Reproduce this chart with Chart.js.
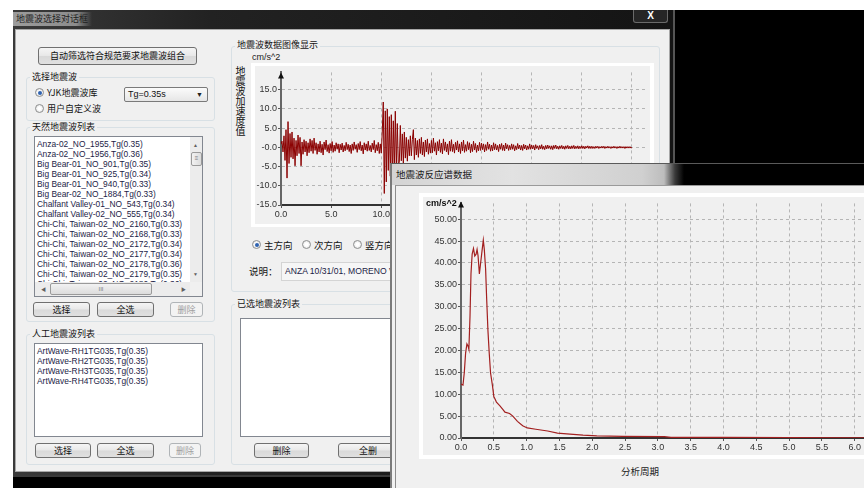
<!DOCTYPE html>
<html>
<head>
<meta charset="utf-8">
<script src="https://cdn.jsdelivr.net/npm/chart.js@4.4.1/dist/chart.umd.min.js"></script>
<style>
html, body { margin: 0; padding: 0; }
body { width: 864px; height: 488px; overflow: hidden; position: relative; background: #fff;
       font-family: "Liberation Sans", "Noto Sans CJK SC", sans-serif; font-size: 9px; color: #1a1a1a; }
.a { position: absolute; white-space: nowrap; }
.cn { font-family: "Noto Sans CJK SC", sans-serif; font-size: 9px; line-height: 12px; color: #141414; }
.btn { position: absolute; box-sizing: border-box; border: 1px solid #707070; border-radius: 3px;
       background: linear-gradient(#f5f5f5, #e8e8e8 48%, #d9d9d9 52%, #e0e0e0);
       text-align: center; font-family: "Noto Sans CJK SC", sans-serif; font-size: 9px; color: #111; }
.btn.off { border-color: #b0b4b7; background: #f3f3f3; color: #a0a0a0; }
.grp { position: absolute; box-sizing: border-box; border: 1px solid #d8e0e5; border-radius: 3px; }
.gl { position: absolute; background: #f0f0f0; padding: 0 2px; }
.rd { position: absolute; width: 9px; height: 9px; box-sizing: border-box; border: 1px solid #8e8f8f;
      border-radius: 50%; background: radial-gradient(circle, #fff 30%, #d8d8d8); }
.rd.on::after { content: ""; position: absolute; left: 1.5px; top: 1.5px; width: 4px; height: 4px;
      border-radius: 50%; background: #2f62b0; }
.list { position: absolute; box-sizing: border-box; border: 1px solid #828790; background: #fff; overflow: hidden; }
.item { position: absolute; left: 2px; white-space: nowrap; font-size: 8.4px; line-height: 10px; color: #1c1c46; }
.sb { position: absolute; background: #ececec; }
.arr { position: absolute; font-size: 5px; color: #606060; line-height: 6px; }
.thumb { position: absolute; box-sizing: border-box; border: 1px solid #9a9a9a; border-radius: 2px;
         background: linear-gradient(to right, #f2f2f2, #dcdcdc); font-size: 6px; color: #777; text-align: center; }
.frame { position: absolute; background: #fff; }
canvas { position: absolute; background: #f0f0f0; }
</style>
</head>
<body>
<!-- dark desktop behind the dialogs -->
<div class="a" style="left:13px;top:10px;width:851px;height:478px;background:#000"></div>

<!-- main dialog -->
<div class="a" style="left:13px;top:10px;width:660px;height:465px;background:linear-gradient(to right,#3a3a3a,#222 30%,#141414);border-right:2px solid #555;border-bottom:2px solid #3a3a3a"></div>
<div class="a cn" style="left:13px;top:12px;padding:0 4px 0 3px;line-height:14px;color:#1e1e1e;background:linear-gradient(to right,#9c9c9c,#8c8c8c 80%,rgba(120,120,120,0))">地震波选择对话框</div>
<div class="a" style="left:633px;top:10px;width:35px;height:13px;box-sizing:border-box;border:1px solid #6a6a6a;border-top:none;border-radius:0 0 3px 3px;background:#262626;color:#fff;font-weight:bold;font-size:10px;line-height:12px;text-align:center">X</div>
<div class="a" style="left:15px;top:29px;width:655px;height:443px;box-sizing:border-box;background:#f0f0f0;border:1px solid #a8a8a8"></div>

<!-- left column -->
<div class="btn" style="left:38px;top:47px;width:159px;height:18px;line-height:16px">自动筛选符合规范要求地震波组合</div>

<div class="grp" style="left:26px;top:77px;width:189px;height:44px"></div>
<div class="gl cn" style="left:30px;top:71px">选择地震波</div>
<div class="rd on" style="left:35px;top:88px"></div>
<div class="a cn" style="left:47px;top:87px">YJK地震波库</div>
<div class="rd" style="left:35px;top:104px"></div>
<div class="a cn" style="left:47px;top:103px">用户自定义波</div>
<div class="a" style="left:124px;top:87px;width:84px;height:15px;box-sizing:border-box;border:1px solid #7a7a7a;border-radius:2px;background:linear-gradient(#fbfbfb,#e6e6e6)">
  <span class="a" style="left:3px;top:0;line-height:13px;font-size:9px;color:#111">Tg=0.35s</span>
  <span class="a" style="right:4px;top:0;line-height:13px;font-size:7px;color:#222">&#9660;</span>
</div>

<div class="grp" style="left:26px;top:127px;width:189px;height:195px"></div>
<div class="gl cn" style="left:30px;top:121px">天然地震波列表</div>
<div class="list" id="natList" style="left:34px;top:136px;width:169px;height:161px">
  <div class="sb" style="left:155px;top:0;width:12px;height:145px"></div>
  <div class="arr" style="left:158px;top:5px">&#9650;</div>
  <div class="thumb" style="left:156px;top:15px;width:11px;height:14px;line-height:11px">&#8801;</div>
  <div class="arr" style="left:158px;top:134px">&#9660;</div>
  <div class="sb" style="left:0;top:145px;width:155px;height:14px"></div>
  <div class="arr" style="left:6px;top:149px">&#9664;</div>
  <div class="thumb" style="left:15px;top:146px;width:102px;height:12px;line-height:10px;background:linear-gradient(#f2f2f2,#dcdcdc)">III</div>
  <div class="arr" style="left:146px;top:149px">&#9654;</div>
  <div class="sb" style="left:155px;top:145px;width:12px;height:14px;background:#f0f0f0"></div>
</div>
<div class="btn" style="left:33px;top:302px;width:57px;height:15px;line-height:13px">选择</div>
<div class="btn" style="left:97px;top:302px;width:57px;height:15px;line-height:13px">全选</div>
<div class="btn off" style="left:170px;top:302px;width:33px;height:15px;line-height:13px">删除</div>

<div class="grp" style="left:26px;top:334px;width:189px;height:131px"></div>
<div class="gl cn" style="left:30px;top:328px">人工地震波列表</div>
<div class="list" id="artList" style="left:34px;top:343px;width:169px;height:94px"></div>
<div class="btn" style="left:35px;top:443px;width:56px;height:15px;line-height:13px">选择</div>
<div class="btn" style="left:97px;top:443px;width:57px;height:15px;line-height:13px">全选</div>
<div class="btn off" style="left:169px;top:443px;width:32px;height:15px;line-height:13px">删除</div>

<!-- right column -->
<div class="grp" style="left:231px;top:46px;width:429px;height:246px"></div>
<div class="gl cn" style="left:235px;top:39px">地震波数据图像显示</div>
<div class="a" style="left:252px;top:51px;font-size:9px;line-height:12px;color:#222">cm/s^2</div>
<div class="a cn" style="left:235px;top:66px;width:11px;font-size:10px;line-height:10px;text-align:center;white-space:normal;color:#111">地<br>震<br>波<br>加<br>速<br>度<br>值</div>
<div class="frame" style="left:251px;top:63px;width:403px;height:164px"></div>
<canvas id="waveChart" width="395" height="158" style="left:255px;top:66px"></canvas>

<div class="rd on" style="left:252px;top:240px"></div>
<div class="a cn" style="left:264px;top:239px;font-size:9.5px">主方向</div>
<div class="rd" style="left:302px;top:240px"></div>
<div class="a cn" style="left:314px;top:239px;font-size:9.5px">次方向</div>
<div class="rd" style="left:353px;top:240px"></div>
<div class="a cn" style="left:365px;top:239px;font-size:9.5px">竖方向</div>
<div class="a cn" style="left:249px;top:265px;font-size:9.5px">说明：</div>
<div class="a" style="left:281px;top:262px;width:160px;height:19px;box-sizing:border-box;border:1px solid #d4d4d4;background:#f6f6f6">
  <span class="a" style="left:3px;top:0;line-height:17px;font-size:8.6px;color:#1c1c46">ANZA 10/31/01, MORENO VALLEY</span>
</div>

<div class="grp" style="left:231px;top:304px;width:440px;height:161px"></div>
<div class="gl cn" style="left:235px;top:298px">已选地震波列表</div>
<div class="list" style="left:240px;top:318px;width:200px;height:119px"></div>
<div class="btn" style="left:254px;top:443px;width:55px;height:15px;line-height:13px">删除</div>
<div class="btn" style="left:338px;top:443px;width:60px;height:15px;line-height:13px">全删</div>

<!-- response spectrum dialog -->
<div class="a" style="left:390px;top:163px;width:480px;height:330px;box-sizing:border-box;background:#f0f0f0;border-left:2px solid #7a7a7a;border-top:1px solid #5a5a5a"></div>
<div class="a" style="left:392px;top:164px;width:472px;height:21px;background:linear-gradient(to right,#d4d4d4,#e2e2e2 120px,#d0d0d0 250px,#bdbdbd 272px,#3a3a3a 283px,#000 292px)"></div>
<div class="a cn" style="left:396px;top:168px;font-size:9.5px;color:#1a1a1a">地震波反应谱数据</div>
<div class="a" style="left:395px;top:185px;width:480px;height:310px;border-left:1px solid #8c8c8c;border-top:1px solid #9a9a9a"></div>
<div class="frame" style="left:419px;top:193px;width:460px;height:266px"></div>
<canvas id="specChart" width="470" height="258" style="left:423px;top:197px"></canvas>
<div class="a" style="left:426px;top:197px;font-size:9px;font-weight:bold;line-height:12px;color:#111">cm/s^2</div>
<div class="a cn" style="left:621px;top:465px;font-size:9.5px;color:#222">分析周期</div>

<script>
// 天然波与人工波列表
const naturalWaves = [
    'Anza-02_NO_1955,Tg(0.35)', 'Anza-02_NO_1956,Tg(0.36)', 'Big Bear-01_NO_901,Tg(0.35)',
    'Big Bear-01_NO_925,Tg(0.34)', 'Big Bear-01_NO_940,Tg(0.33)', 'Big Bear-02_NO_1884,Tg(0.33)',
    'Chalfant Valley-01_NO_543,Tg(0.34)', 'Chalfant Valley-02_NO_555,Tg(0.34)',
    'Chi-Chi, Taiwan-02_NO_2160,Tg(0.33)', 'Chi-Chi, Taiwan-02_NO_2168,Tg(0.33)',
    'Chi-Chi, Taiwan-02_NO_2172,Tg(0.34)', 'Chi-Chi, Taiwan-02_NO_2177,Tg(0.34)',
    'Chi-Chi, Taiwan-02_NO_2178,Tg(0.36)', 'Chi-Chi, Taiwan-02_NO_2179,Tg(0.35)',
    'Chi-Chi, Taiwan-02_NO_2180,Tg(0.36)'
];
const artificialWaves = [
    'ArtWave-RH1TG035,Tg(0.35)', 'ArtWave-RH2TG035,Tg(0.35)',
    'ArtWave-RH3TG035,Tg(0.35)', 'ArtWave-RH4TG035,Tg(0.35)'
];

// 地震波时程 (cm/s^2)，每 0.1 s 一个值，0 ~ 35 s
const waveStart = 0;
const waveStep = 0.1;
const waveAccel = [
    0.8, 1.6, -1.2, 3.0, -3.4, 4.6, -8.0, 6.7, -4.2, 3.6,
    -2.6, 4.0, -3.0, 2.4, -4.8, 1.8, -2.2, 3.2, -1.6, 2.6,
    -4.8, 1.4, -1.8, 2.0, -1.2, 1.6, -2.2, 1.2, -1.4, 2.2,
    -1.0, 1.8, -1.6, 2.4, -0.8, 1.2, -1.8, 0.9, -1.2, 1.6,
    -1.4, 0.8, -2.0, 1.4, -0.6, 1.9, -1.1, 0.7, -1.5, 1.0,
    -0.9, 1.5, -1.3, 0.6, -1.0, 1.2, -0.5, 0.9, -1.4, 0.8,
    -0.7, 1.1, -1.2, 0.5, -0.9, 1.3, -0.6, 0.8, -1.1, 0.6,
    -1.6, 0.9, -0.8, 1.4, -0.5, 0.7, -1.3, 1.0, -0.6, 1.5,
    -0.9, 0.6, -1.7, 1.2, -0.7, 0.9, -1.0, 1.6, -0.8, 0.5,
    -1.2, 1.1, -0.6, 1.8, -1.4, 0.7, -0.9, 1.3, -1.6, 0.9,
    -1.5, 4.0, 11.8, -12.0, 9.5, -9.0, 10.0, -6.0, 8.0, -7.5,
    8.5, -8.0, 6.9, -6.5, 9.4, -5.2, 6.2, -4.6, -3.8, 5.7,
    -3.5, 3.5, -4.2, 4.0, -2.8, 2.6, -3.6, 2.0, -2.2, 3.0,
    -2.2, 2.0, 4.6, -3.2, 2.4, -2.0, 1.8, -2.6, 2.2, -1.6,
    2.6, -2.0, 1.4, -2.4, 1.9, -1.2, 2.2, -1.8, 1.0, -1.5,
    1.8, -1.4, 2.4, -1.0, 1.2, -2.0, 1.5, -0.9, 2.0, -1.3,
    1.1, -1.7, 2.2, -0.8, 1.4, -1.2, 0.9, -1.9, 1.6, -1.0,
    2.0, -1.1, 0.8, -1.5, 1.3, -0.7, 1.7, -1.2, 0.9, -1.6,
    1.4, -0.9, 1.9, -1.3, 0.7, -1.0, 1.5, -0.6, 1.2, -1.4,
    0.8, -1.1, 1.6, -0.7, 1.0, -1.3, 0.6, -0.9, 1.3, -0.8,
    1.1, -0.6, 0.9, -1.2, 0.7, -0.8, 1.4, -0.5, 0.8, -1.0,
    0.6, -0.9, 1.2, -0.6, 0.9, -0.7, 0.5, -1.1, 0.8, -0.5,
    1.0, -0.8, 0.6, -0.9, 1.1, -0.4, 0.7, -0.8, 0.5, -0.6,
    0.9, -0.5, 0.7, -0.9, 0.4, -0.6, 1.0, -0.4, 0.6, -0.7,
    0.5, -0.8, 0.8, -0.4, 0.6, -0.7, 0.4, -0.5, 0.9, -0.5,
    0.6, -0.4, 0.5, -0.7, 0.7, -0.3, 0.4, -0.6, 0.5, -0.4,
    0.7, -0.5, 0.3, -0.6, 0.5, -0.4, 0.6, -0.3, 0.4, -0.5,
    0.4, -0.6, 0.5, -0.3, 0.6, -0.4, 0.3, -0.5, 0.4, -0.3,
    0.5, -0.4, 0.3, -0.5, 0.4, -0.3, 0.5, -0.4, 0.3, -0.4,
    0.4, -0.3, 0.5, -0.4, 0.3, -0.3, 0.4, -0.4, 0.3, -0.3,
    0.4, -0.3, 0.3, -0.4, 0.3, -0.2, 0.4, -0.3, 0.3, -0.3,
    0.3, -0.3, 0.2, -0.3, 0.3, -0.2, 0.3, -0.3, 0.2, -0.2,
    0.3, -0.2, 0.3, -0.3, 0.2, -0.2, 0.3, -0.2, 0.2, -0.3,
    0.2, -0.2, 0.3, -0.2, 0.2, -0.3, 0.2, -0.2, 0.3, -0.2,
    0.2, -0.2, 0.2, -0.3, 0.2, -0.2, 0.2, -0.2, 0.2, -0.2,
    0.0
];

// 反应谱：周期 (s) 与谱值 (cm/s^2)
const specPeriod = [
    0.00, 0.03, 0.05, 0.07, 0.09, 0.11, 0.12, 0.137, 0.152, 0.17,
    0.19, 0.21, 0.23, 0.245, 0.26, 0.28, 0.30, 0.32, 0.34, 0.355,
    0.375, 0.39, 0.41, 0.43, 0.45, 0.48, 0.50, 0.54, 0.59, 0.64,
    0.67, 0.74, 0.79, 0.86, 0.94, 1.01, 1.14, 1.32, 1.47, 1.66,
    1.86, 2.07, 2.47, 3.10, 3.20, 4.00, 5.00, 6.00, 6.40
];
const specValue = [
    12.3, 12.1, 14.9, 19.4, 21.5, 20.9, 20.3, 27.7, 37.5, 42.0,
    43.3, 41.6, 42.0, 43.1, 41.6, 37.5, 40.1, 42.7, 45.2, 43.1,
    38.6, 32.2, 24.7, 19.4, 14.9, 11.9, 9.5, 8.2, 7.4, 6.5,
    5.9, 5.6, 5.0, 3.8, 2.8, 2.3, 2.0, 1.6, 1.1, 0.9,
    0.65, 0.5, 0.35, 0.3, 0.15, 0.12, 0.08, 0.06, 0.06
];

// 坐标轴刻度
const waveXTicks = [0, 5, 10, 15, 20, 25, 30, 35];
const waveYTicks = [-15, -10, -5, 0, 5, 10, 15];
const specXTicks = [0, 0.5, 1, 1.5, 2, 2.5, 3, 3.5, 4, 4.5, 5, 5.5, 6];
const specYTicks = [0, 5, 10, 15, 20, 25, 30, 35, 40, 45, 50];

function fillList(id, items, top) {
    const box = document.getElementById(id);
    items.forEach((text, i) => {
        const d = document.createElement('div');
        d.className = 'item';
        d.style.top = (top + i * 10) + 'px';
        d.textContent = text;
        box.insertBefore(d, box.firstChild);
    });
}
fillList('natList', naturalWaves, 2);
fillList('artList', artificialWaves, 2);

Chart.defaults.font.family = '"Liberation Sans", Arial, sans-serif';
Chart.defaults.font.size = 9;
Chart.defaults.color = '#333';

// y 轴顶部箭头
const axisArrow = {
    id: 'axisArrow',
    afterDraw(chart, args, opts) {
        const { ctx, chartArea } = chart;
        const x = chartArea.left;
        const tip = chartArea.top - (opts.lift || 0);
        ctx.save();
        ctx.strokeStyle = opts.color;
        ctx.lineWidth = 2;
        ctx.beginPath();
        ctx.moveTo(x, chartArea.top);
        ctx.lineTo(x, tip + 3);
        ctx.stroke();
        ctx.fillStyle = '#111';
        ctx.beginPath();
        ctx.moveTo(x, tip);
        ctx.lineTo(x - 3, tip + 6);
        ctx.lineTo(x + 3, tip + 6);
        ctx.closePath();
        ctx.fill();
        ctx.restore();
    }
};

function fixTicks(list) {
    return function (scale) {
        scale.ticks = list.map(v => ({ value: v }));
    };
}

function axisOptions(min, max, ticks, fmt, size, isY) {
    return {
        type: 'linear',
        min: min,
        max: max,
        afterBuildTicks: fixTicks(ticks),
        afterFit: s => { if (isY) s.width = size; else s.height = size; },
        ticks: { callback: fmt, padding: 1, maxRotation: 0, autoSkip: false, color: '#333' },
        grid: { color: '#b5b5b5', lineWidth: 1, tickLength: 3, tickColor: '#555', tickBorderDash: [] },
        border: { color: isY ? '#666' : '#333', width: 2, dash: [3, 3] }
    };
}

new Chart(document.getElementById('waveChart'), {
    type: 'line',
    data: {
        datasets: [{
            data: waveAccel.map((v, i) => ({ x: waveStart + i * waveStep, y: v })),
            borderColor: '#8b0000',
            borderWidth: 1,
            pointRadius: 0,
            tension: 0
        }]
    },
    options: {
        responsive: false,
        animation: false,
        devicePixelRatio: 1,
        layout: { padding: { top: 2, right: 2, left: 0, bottom: 0 } },
        plugins: { legend: { display: false }, tooltip: { enabled: false }, axisArrow: { lift: 0, color: '#666' } },
        scales: {
            x: axisOptions(0, 36.6, waveXTicks, v => v.toFixed(1), 19, false),
            y: axisOptions(-15, 19.5, waveYTicks, v => (v === 0 ? '-0.0' : v.toFixed(1)), 26, true)
        }
    },
    plugins: [axisArrow]
});

new Chart(document.getElementById('specChart'), {
    type: 'line',
    data: {
        datasets: [{
            data: specPeriod.map((t, i) => ({ x: t, y: specValue[i] })),
            borderColor: '#a32020',
            borderWidth: 1.2,
            pointRadius: 0,
            tension: 0
        }]
    },
    options: {
        responsive: false,
        animation: false,
        devicePixelRatio: 1,
        layout: { padding: { top: 3, right: 12, left: 0, bottom: 0 } },
        plugins: { legend: { display: false }, tooltip: { enabled: false }, axisArrow: { lift: 2, color: '#777' } },
        scales: {
            x: axisOptions(0, 6.4, specXTicks, v => v.toFixed(1), 17, false),
            y: axisOptions(0, 53.6, specYTicks, v => v.toFixed(2), 38, true)
        }
    },
    plugins: [axisArrow]
});
</script>
</body>
</html>
